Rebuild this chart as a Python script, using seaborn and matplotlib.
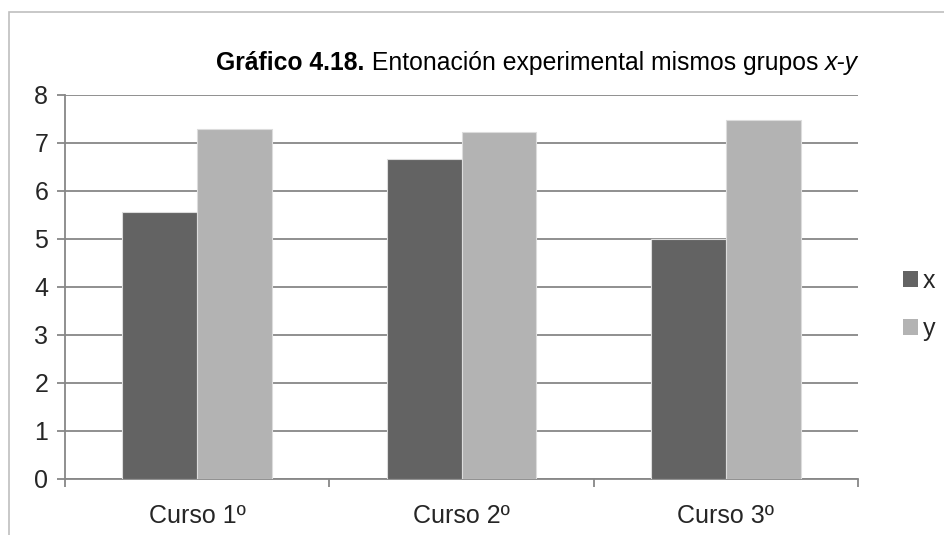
import matplotlib
matplotlib.use('Agg')
import matplotlib.pyplot as plt
import seaborn as sns
import pandas as pd
from matplotlib.offsetbox import TextArea, HPacker, AnnotationBbox
from matplotlib.patches import Rectangle

# data
cursos = ['Curso 1º', 'Curso 2º', 'Curso 3º']
valores_x = [5.57, 6.66, 5.0]
valores_y = [7.29, 7.22, 7.47]
series = ['x', 'y']
colores = ['#636363', '#b3b3b3']

df = pd.DataFrame({
    'curso': cursos * 2,
    'grupo': ['x'] * len(cursos) + ['y'] * len(cursos),
    'valor': valores_x + valores_y,
})

sns.set_theme(style='white')
plt.rcParams['font.family'] = ['Liberation Sans', 'DejaVu Sans']

fig = plt.figure(figsize=(9.44, 5.35), dpi=100)
ax = fig.add_axes([65 / 944, 1 - 479 / 535, (858 - 65) / 944, (479 - 95) / 535])

sns.barplot(data=df, x='curso', y='valor', hue='grupo', hue_order=series,
            palette=colores, width=0.566, edgecolor='#dcdcdc', linewidth=0.8,
            saturation=1, ax=ax, legend=True, zorder=3)

ax.set_ylim(0, 8)
ax.set_xlim(-0.5, 2.5)
ax.set_yticks(range(0, 9))
ax.yaxis.grid(True, color='#878787', linewidth=1.3, zorder=0)
ax.set_axisbelow(True)
ax.set_xlabel('')
ax.set_ylabel('')

for s in ['top', 'right']:
    ax.spines[s].set_visible(False)
for s in ['left', 'bottom']:
    ax.spines[s].set_color('#878787')
    ax.spines[s].set_linewidth(1.3)

ax.tick_params(axis='y', which='major', length=6, width=1.3, color='#878787',
               labelsize=18, pad=6, left=True)
ax.tick_params(axis='x', which='major', length=0, labelsize=18, pad=18)
ax.set_xticks([-0.5, 0.5, 1.5, 2.5], minor=True)
ax.tick_params(axis='x', which='minor', length=6, width=1.3, color='#878787', bottom=True)

leg = ax.legend(loc='center left', bbox_to_anchor=(1.028, 0.453), frameon=False,
                fontsize=18, handlelength=0.6, handleheight=0.6, handletextpad=0.2,
                labelspacing=0.95)
for h in leg.legend_handles:
    h.set_edgecolor('none')

# title with mixed bold / normal / italic
tam = 17.8
partes = [
    TextArea('Gráfico 4.18.', textprops=dict(fontsize=tam, fontweight='bold', color='black')),
    TextArea(' Entonación experimental mismos grupos ', textprops=dict(fontsize=tam, color='black')),
    TextArea('x-y', textprops=dict(fontsize=tam, style='italic', color='black')),
]
caja = HPacker(children=partes, align='baseline', pad=0, sep=0)
ab = AnnotationBbox(caja, (537 / 944, 1 - 63 / 535), xycoords='figure fraction',
                    frameon=False, box_alignment=(0.5, 0.5))
fig.add_artist(ab)

# chart frame
fig.add_artist(Rectangle((9 / 944, -0.1), 1.2, 1 - 12 / 535 + 0.1,
                         transform=fig.transFigure, fill=False,
                         edgecolor='#bfbfbf', linewidth=1.2))

fig.savefig('out.png', dpi=100)
